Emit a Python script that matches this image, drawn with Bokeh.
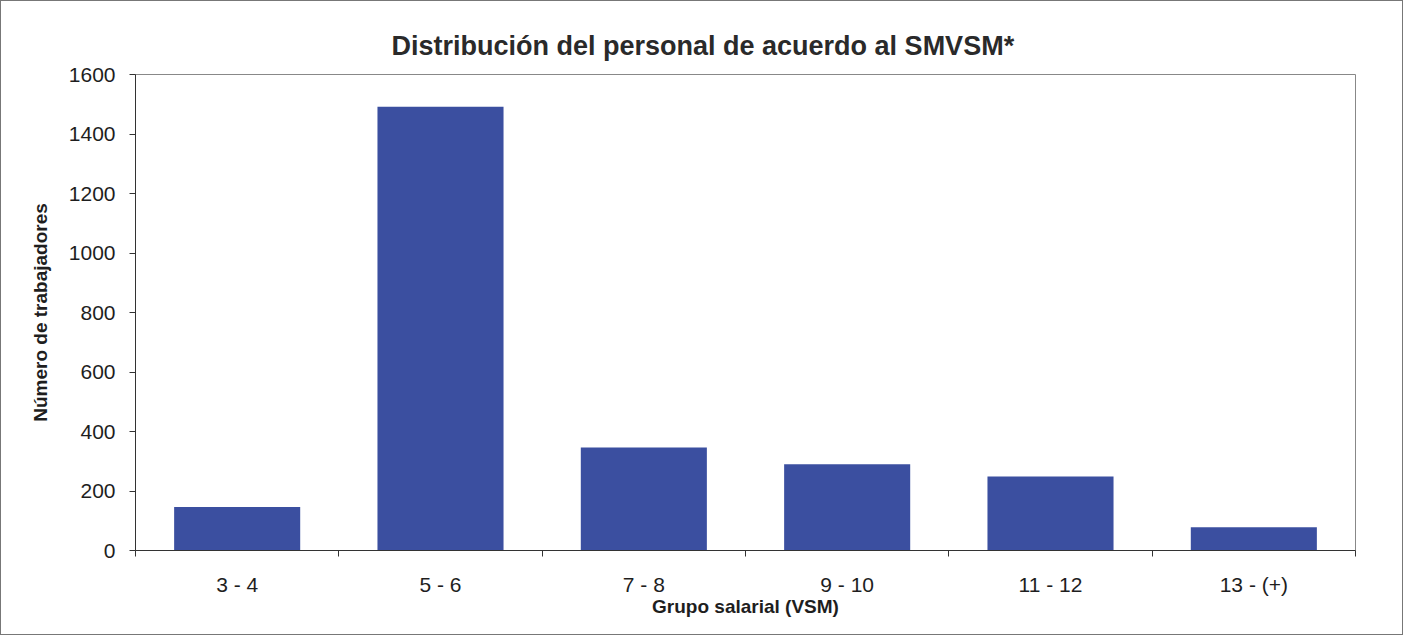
from bokeh.plotting import figure
from bokeh.models import FixedTicker, Range1d
from bokeh.embed import file_html
from bokeh.resources import INLINE

categories = ["3 - 4", "5 - 6", "7 - 8", "9 - 10", "11 - 12", "13 - (+)"]
workers = [146, 1492, 346, 290, 249, 78]
y_ticks = [0, 200, 400, 600, 800, 1000, 1200, 1400, 1600]

title_text = "Distribución del personal de acuerdo al SMVSM*"
x_label = "Grupo salarial (VSM)"
y_label = "Número de trabajadores"

FONT = "Liberation Sans"
BAR = "#3B4FA0"
TXT = "#1e1e1e"

n = len(categories)
centers = [i + 0.5 for i in range(n)]
bounds = list(range(n + 1))

p = figure(width=1403, height=635, output_backend="svg", toolbar_location=None,
           x_range=Range1d(0, n), y_range=Range1d(0, y_ticks[-1]),
           min_border_left=134, min_border_right=49, min_border_top=73,
           min_border_bottom=86, title=title_text)

p.styles = {"border": "1px solid #777"}
p.background_fill_color = "white"
p.border_fill_color = "white"
p.outline_line_color = "#888888"
p.outline_line_width = 1
p.xgrid.visible = False
p.ygrid.visible = False

p.title.align = "left"
p.title.offset = 256
p.title.text_font = FONT
p.title.text_font_size = "27px"
p.title.text_font_style = "bold"
p.title.text_color = "#2a2a2a"
p.title.standoff = 28

p.vbar(x=centers, top=workers, width=0.62, fill_color=BAR, line_color=None)

xa = p.xaxis[0]
xa.ticker = FixedTicker(ticks=centers, minor_ticks=bounds)
xa.major_label_overrides = {c: lab for c, lab in zip(centers, categories)}
xa.major_tick_out = 0
xa.major_tick_in = 0
xa.minor_tick_out = 6
xa.minor_tick_in = 0
xa.minor_tick_line_color = "#333333"
xa.axis_line_color = "#333333"
xa.major_label_standoff = 16
xa.major_label_text_font = FONT
xa.major_label_text_font_size = "21px"
xa.major_label_text_color = TXT
xa.axis_label = x_label
xa.axis_label_text_font = FONT
xa.axis_label_text_font_size = "19px"
xa.axis_label_text_font_style = "bold"
xa.axis_label_text_color = TXT
xa.axis_label_standoff = -3

ya = p.yaxis[0]
ya.ticker = FixedTicker(ticks=y_ticks)
ya.minor_tick_line_color = None
ya.major_tick_out = 6
ya.major_tick_in = 0
ya.major_tick_line_color = "#333333"
ya.axis_line_color = "#333333"
ya.major_label_standoff = 14
ya.major_label_text_font = FONT
ya.major_label_text_font_size = "21px"
ya.major_label_text_color = TXT
ya.axis_label = y_label
ya.axis_label_text_font = FONT
ya.axis_label_text_font_size = "19px"
ya.axis_label_text_font_style = "bold"
ya.axis_label_text_color = TXT
ya.axis_label_standoff = 15

open("out.html", "w").write(file_html(p, INLINE))
